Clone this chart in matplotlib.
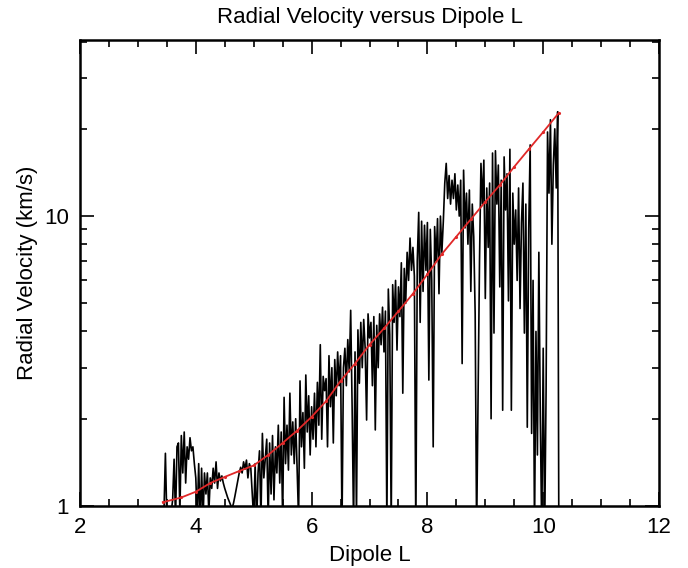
import matplotlib
matplotlib.use("Agg")
import matplotlib.pyplot as plt
from matplotlib.ticker import FixedLocator, MultipleLocator, NullFormatter

plt.rcParams["font.family"] = ["Liberation Sans", "DejaVu Sans"]

# radial velocity samples (km/s), 0.025 L steps from L=3.45
dipole_l = [
    3.450, 3.475, 3.500, 3.525, 3.550, 3.575, 3.600, 3.625, 3.650, 3.675,
    3.700, 3.725, 3.750, 3.775, 3.800, 3.825, 3.850, 3.875, 3.900, 3.925,
    3.950, 3.975, 4.000, 4.025, 4.050, 4.075, 4.100, 4.125, 4.150, 4.175,
    4.200, 4.225, 4.250, 4.275, 4.300, 4.325, 4.350, 4.375, 4.400, 4.425,
    4.450, 4.475, 4.500, 4.525, 4.550, 4.575, 4.600, 4.625, 4.650, 4.675,
    4.700, 4.725, 4.750, 4.775, 4.800, 4.825, 4.850, 4.875, 4.900, 4.925,
    4.950, 4.975, 5.000, 5.025, 5.050, 5.075, 5.100, 5.125, 5.150, 5.175,
    5.200, 5.225, 5.250, 5.275, 5.300, 5.325, 5.350, 5.375, 5.400, 5.425,
    5.450, 5.475, 5.500, 5.525, 5.550, 5.575, 5.600, 5.625, 5.650, 5.675,
    5.700, 5.725, 5.750, 5.775, 5.800, 5.825, 5.850, 5.875, 5.900, 5.925,
    5.950, 5.975, 6.000, 6.025, 6.050, 6.075, 6.100, 6.125, 6.150, 6.175,
    6.200, 6.225, 6.250, 6.275, 6.300, 6.325, 6.350, 6.375, 6.400, 6.425,
    6.450, 6.475, 6.500, 6.525, 6.550, 6.575, 6.600, 6.625, 6.650, 6.675,
    6.700, 6.725, 6.750, 6.775, 6.800, 6.825, 6.850, 6.875, 6.900, 6.925,
    6.950, 6.975, 7.000, 7.025, 7.050, 7.075, 7.100, 7.125, 7.150, 7.175,
    7.200, 7.225, 7.250, 7.275, 7.300, 7.325, 7.350, 7.375, 7.400, 7.425,
    7.450, 7.475, 7.500, 7.525, 7.550, 7.575, 7.600, 7.625, 7.650, 7.675,
    7.700, 7.725, 7.750, 7.775, 7.800, 7.825, 7.850, 7.875, 7.900, 7.925,
    7.950, 7.975, 8.000, 8.025, 8.050, 8.075, 8.100, 8.125, 8.150, 8.175,
    8.200, 8.225, 8.250, 8.275, 8.300, 8.325, 8.350, 8.375, 8.400, 8.425,
    8.450, 8.475, 8.500, 8.525, 8.550, 8.575, 8.600, 8.625, 8.650, 8.675,
    8.700, 8.725, 8.750, 8.775, 8.800, 8.825, 8.850, 8.875, 8.900, 8.925,
    8.950, 8.975, 9.000, 9.025, 9.050, 9.075, 9.100, 9.125, 9.150, 9.175,
    9.200, 9.225, 9.250, 9.275, 9.300, 9.325, 9.350, 9.375, 9.400, 9.425,
    9.450, 9.475, 9.500, 9.525, 9.550, 9.575, 9.600, 9.625, 9.650, 9.675,
    9.700, 9.725, 9.750, 9.775, 9.800, 9.825, 9.850, 9.875, 9.900, 9.925,
    9.950, 9.975, 10.000, 10.025, 10.050, 10.075, 10.100, 10.125, 10.150, 10.175,
    10.200, 10.225, 10.250, 10.270,
]
velocity = [
    0.95, 1.52, 0.90, 0.85, 0.90, 0.95, 1.05, 1.45, 0.90, 1.60,
    1.65, 0.95, 1.75, 1.30, 1.80, 1.20, 1.60, 1.45, 1.72, 1.55,
    1.60, 1.40, 1.25, 0.90, 1.40, 0.85, 1.35, 0.90, 1.30, 1.10,
    1.30, 0.95, 1.25, 1.15, 1.35, 1.20, 1.42, 1.15, 1.30, 1.22,
    1.27, 1.20, 1.15, 1.11, 1.07, 1.04, 1.01, 0.98, 1.02, 1.08,
    1.15, 1.22, 1.30, 1.36, 1.30, 1.42, 1.34, 1.44, 1.25, 1.40,
    1.35, 1.10, 0.90, 1.40, 0.85, 1.30, 1.55, 0.90, 1.78, 1.25,
    1.45, 1.70, 0.90, 1.65, 1.10, 1.75, 1.05, 1.60, 1.30, 1.90,
    1.20, 1.80, 0.90, 2.37, 1.40, 1.90, 1.33, 2.45, 1.50, 1.95,
    1.40, 2.00, 1.35, 0.90, 2.70, 1.60, 2.10, 1.35, 2.83, 1.80,
    2.40, 1.50, 2.20, 1.70, 2.45, 1.60, 2.67, 1.90, 3.60, 1.70,
    2.80, 2.50, 2.75, 1.60, 3.30, 2.20, 3.00, 1.65, 3.20, 2.40,
    3.40, 2.60, 3.30, 0.85, 3.00, 3.50, 2.60, 3.75, 2.90, 4.73,
    2.19, 0.85, 3.40, 0.90, 4.05, 2.65, 4.30, 3.00, 4.40, 3.50,
    1.98, 4.60, 3.80, 4.30, 2.60, 4.50, 1.83, 4.20, 3.00, 4.60,
    3.60, 4.85, 3.40, 4.70, 0.85, 5.60, 3.90, 0.85, 5.80, 4.30,
    6.00, 3.45, 5.70, 4.50, 6.90, 2.45, 6.60, 5.00, 7.50, 6.00,
    8.40, 6.50, 7.80, 6.20, 0.80, 7.00, 10.3, 4.30, 9.60, 5.50,
    9.30, 6.50, 9.50, 2.72, 9.00, 6.00, 1.60, 9.20, 7.00, 9.80,
    5.40, 10.0, 7.50, 9.60, 13.0, 15.2, 11.5, 13.8, 11.0, 13.3,
    11.5, 14.0, 10.5, 12.8, 10.0, 13.3, 3.10, 14.4, 9.10, 12.0,
    8.00, 12.3, 5.50, 11.0, 8.50, 4.60, 0.80, 2.30, 7.00, 15.2,
    11.0, 15.6, 5.20, 12.5, 7.80, 13.0, 2.00, 16.5, 3.95, 16.8,
    11.0, 15.0, 5.70, 13.3, 2.14, 16.0, 10.5, 14.0, 5.10, 17.0,
    2.14, 12.0, 8.00, 10.5, 6.00, 12.5, 4.80, 9.50, 13.0, 3.95,
    11.0, 1.87, 9.00, 17.6, 1.78, 6.00, 0.80, 4.00, 1.50, 7.50,
    2.00, 0.80, 3.50, 0.80, 2.50, 19.5, 12.0, 21.5, 8.00, 15.0,
    20.0, 12.5, 22.9, 0.80,
]

# smooth fit drawn in red
fit_l = [3.43, 3.75, 4.0, 4.25, 4.5, 4.75, 5.0, 5.25, 5.5, 5.75, 6.0, 6.25,
         6.5, 6.75, 7.0, 7.25, 7.5, 7.75, 8.0, 8.25, 8.5, 8.75, 9.0, 9.25,
         9.5, 9.75, 10.0, 10.27]
fit_v = [1.03, 1.07, 1.12, 1.20, 1.26, 1.32, 1.38, 1.50, 1.65, 1.82, 2.03, 2.30,
         2.70, 3.10, 3.60, 4.10, 4.70, 5.40, 6.30, 7.40, 8.50, 9.75, 11.2, 12.8,
         14.8, 17.0, 19.5, 22.7]

fig = plt.figure(figsize=(6.88, 5.68), dpi=100)
ax = fig.add_axes([80 / 688, 62 / 568, 579 / 688, 466 / 568])

ax.plot(dipole_l, velocity, color="black", lw=1.2)
ax.plot(fit_l, fit_v, color="#e02828", lw=1.3, marker=".", markersize=2.5)

ax.set_yscale("log")
ax.set_xlim(2, 12)
ax.set_ylim(1, 40.5)

ax.xaxis.set_major_locator(MultipleLocator(2))
ax.xaxis.set_minor_locator(MultipleLocator(0.5))
ax.yaxis.set_major_locator(FixedLocator([1, 10]))
ax.yaxis.set_minor_locator(FixedLocator([2, 3, 4, 5, 6, 7, 8, 9, 20, 30, 40]))
ax.yaxis.set_minor_formatter(NullFormatter())
ax.set_yticklabels(["1", "10"])

ax.tick_params(which="both", direction="in", top=True, right=True, width=1.2,
               labelsize=16)
ax.tick_params(which="major", length=10, pad=8)
ax.tick_params(which="minor", length=5)
for s in ax.spines.values():
    s.set_linewidth(1.8)

ax.set_title("Radial Velocity versus Dipole L", fontsize=16, pad=12)
ax.set_xlabel("Dipole L", fontsize=16, labelpad=5)
ax.set_ylabel("Radial Velocity (km/s)", fontsize=16, labelpad=4)

fig.savefig("out.png", dpi=100)
